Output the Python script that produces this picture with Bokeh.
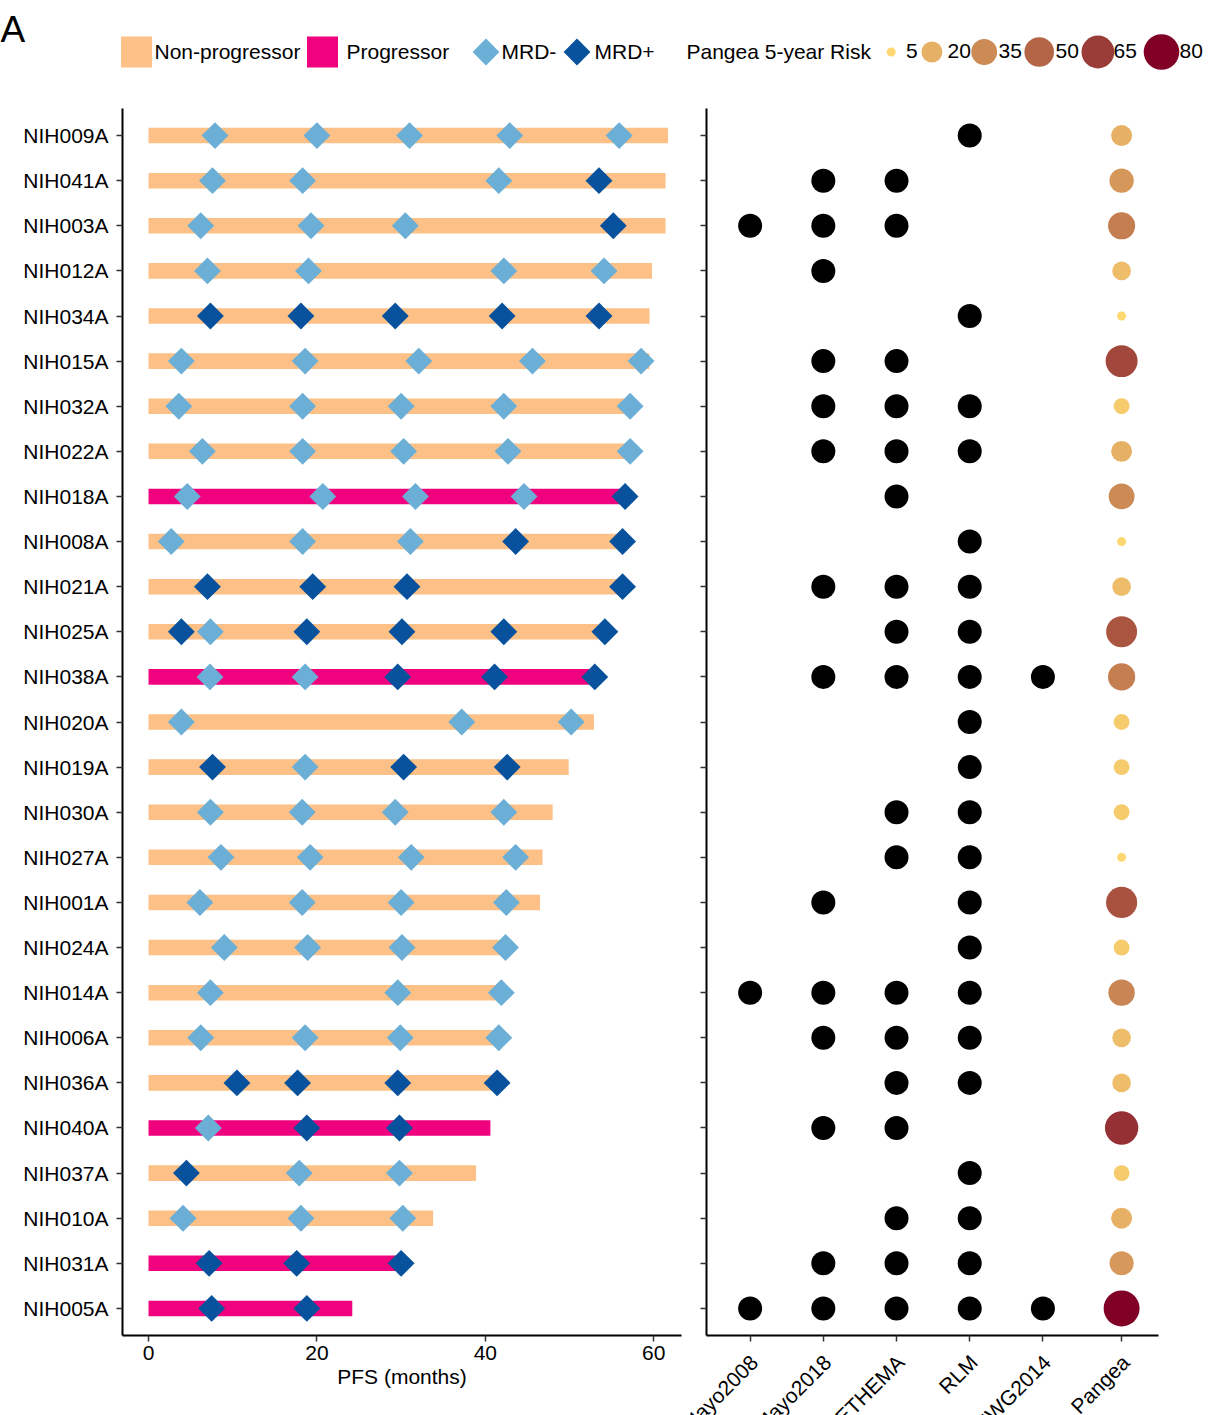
import math
from bokeh.plotting import figure
from bokeh.models import Range1d, FixedTicker, ColumnDataSource
from bokeh.layouts import column, row
from bokeh.embed import file_html
from bokeh.resources import INLINE
from bokeh.core.properties import value

# ---------------- data ----------------
patients = ["NIH009A", "NIH041A", "NIH003A", "NIH012A", "NIH034A", "NIH015A", "NIH032A",
            "NIH022A", "NIH018A", "NIH008A", "NIH021A", "NIH025A", "NIH038A", "NIH020A",
            "NIH019A", "NIH030A", "NIH027A", "NIH001A", "NIH024A", "NIH014A", "NIH006A",
            "NIH036A", "NIH040A", "NIH037A", "NIH010A", "NIH031A", "NIH005A"]

pfs_months = [61.7, 61.4, 61.4, 59.8, 59.5, 59.5, 57.0, 57.0, 56.2, 56.2, 56.0, 53.4, 52.3,
              52.9, 49.9, 48.0, 46.8, 46.5, 42.6, 41.8, 41.5, 41.0, 40.6, 38.9, 33.8, 29.8, 24.2]

outcome = ["Non-progressor", "Non-progressor", "Non-progressor", "Non-progressor",
           "Non-progressor", "Non-progressor", "Non-progressor", "Non-progressor",
           "Progressor", "Non-progressor", "Non-progressor", "Non-progressor", "Progressor",
           "Non-progressor", "Non-progressor", "Non-progressor", "Non-progressor",
           "Non-progressor", "Non-progressor", "Non-progressor", "Non-progressor",
           "Non-progressor", "Progressor", "Non-progressor", "Non-progressor", "Progressor",
           "Progressor"]

mrd_months = [
    [7.9, 20.0, 31.0, 42.9, 55.9],
    [7.6, 18.3, 41.6, 53.5],
    [6.2, 19.3, 30.5, 55.2],
    [7.0, 19.0, 42.2, 54.1],
    [7.35, 18.1, 29.3, 42.0, 53.5],
    [3.9, 18.6, 32.1, 45.6, 58.5],
    [3.6, 18.3, 30.0, 42.2, 57.2],
    [6.4, 18.3, 30.3, 42.7, 57.2],
    [4.6, 20.7, 31.7, 44.6, 56.6],
    [2.7, 18.3, 31.1, 43.6, 56.3],
    [7.0, 19.5, 30.7, 56.3],
    [3.9, 7.35, 18.8, 30.1, 42.2, 54.2],
    [7.3, 18.6, 29.6, 41.1, 53.0],
    [3.9, 37.2, 50.2],
    [7.6, 18.6, 30.3, 42.6],
    [7.35, 18.25, 29.3, 42.2],
    [8.6, 19.2, 31.2, 43.6],
    [6.1, 18.25, 30.0, 42.5],
    [9.0, 18.9, 30.1, 42.4],
    [7.35, 29.6, 41.9],
    [6.2, 18.6, 29.9, 41.6],
    [10.5, 17.7, 29.6, 41.4],
    [7.1, 18.8, 29.8],
    [4.5, 17.9, 29.8],
    [4.1, 18.1, 30.2],
    [7.2, 17.6, 30.0],
    [7.5, 18.8],
]

N, P = "MRD-", "MRD+"
mrd_result = [
    [N, N, N, N, N],
    [N, N, N, P],
    [N, N, N, P],
    [N, N, N, N],
    [P, P, P, P, P],
    [N, N, N, N, N],
    [N, N, N, N, N],
    [N, N, N, N, N],
    [N, N, N, N, P],
    [N, N, N, P, P],
    [P, P, P, P],
    [P, N, P, P, P, P],
    [N, N, P, P, P],
    [N, N, N],
    [P, N, P, P],
    [N, N, N, N],
    [N, N, N, N],
    [N, N, N, N],
    [N, N, N, N],
    [N, N, N],
    [N, N, N, N],
    [P, P, P, P],
    [N, P, P],
    [P, N, N],
    [N, N, N],
    [P, P, P],
    [P, P],
]

models = ["Mayo2008", "Mayo2018", "PETHEMA", "RLM", "IMWG2014", "Pangea"]

model_calls = [
    ["RLM"],
    ["Mayo2018", "PETHEMA"],
    ["Mayo2008", "Mayo2018", "PETHEMA"],
    ["Mayo2018"],
    ["RLM"],
    ["Mayo2018", "PETHEMA"],
    ["Mayo2018", "PETHEMA", "RLM"],
    ["Mayo2018", "PETHEMA", "RLM"],
    ["PETHEMA"],
    ["RLM"],
    ["Mayo2018", "PETHEMA", "RLM"],
    ["PETHEMA", "RLM"],
    ["Mayo2018", "PETHEMA", "RLM", "IMWG2014"],
    ["RLM"],
    ["RLM"],
    ["PETHEMA", "RLM"],
    ["PETHEMA", "RLM"],
    ["Mayo2018", "RLM"],
    ["RLM"],
    ["Mayo2008", "Mayo2018", "PETHEMA", "RLM"],
    ["Mayo2018", "PETHEMA", "RLM"],
    ["PETHEMA", "RLM"],
    ["Mayo2018", "PETHEMA"],
    ["RLM"],
    ["PETHEMA", "RLM"],
    ["Mayo2018", "PETHEMA", "RLM"],
    ["Mayo2008", "Mayo2018", "PETHEMA", "RLM", "IMWG2014"],
]

pangea_risk = [20, 30, 40, 15, 5, 61, 10, 20, 35, 5, 15, 56, 40, 10, 10, 10, 4, 57, 10,
               37, 15, 15, 68, 10, 20, 29, 82]

risk_breaks = [5, 20, 35, 50, 65, 80]
outcome_levels = ["Non-progressor", "Progressor"]
mrd_levels = ["MRD-", "MRD+"]

# ---------------- styles / layout ----------------
FONT = "Liberation Sans"
FS = "21px"
OUTCOME_COLORS = {"Non-progressor": "#FDC086", "Progressor": "#F0027F"}
MRD_COLORS = {"MRD-": "#6BAED6", "MRD+": "#08519C"}
RISK_STOPS = ["#FDD870", "#E6B065", "#CC8A55", "#B46546", "#9A3C37", "#800026"]
MODEL_POS = [1, 2, 3, 4, 5, 6.075]

PAGE_W, PAGE_H = 1212, 1415
TOP_H = 88
FRAME_TOP_PAD = 20
FRAME_H = 1227
LEFT_W = 690
R_W = PAGE_W - LEFT_W
R_BL, R_BR = 16, 54
R_XR = (0.404, 6.579)
R_BOTTOM = 8


def hex2rgb(h):
    h = h.lstrip("#")
    return tuple(int(h[i:i + 2], 16) for i in (0, 2, 4))


def risk_color(v):
    v = min(max(v, risk_breaks[0]), risk_breaks[-1])
    for k in range(len(risk_breaks) - 1):
        a, b = risk_breaks[k], risk_breaks[k + 1]
        if v <= b:
            t = (v - a) / (b - a)
            c0, c1 = hex2rgb(RISK_STOPS[k]), hex2rgb(RISK_STOPS[k + 1])
            c = [round(c0[j] + (c1[j] - c0[j]) * t) for j in range(3)]
            return "#%02x%02x%02x" % tuple(c)
    return RISK_STOPS[-1]


def risk_size(v):
    return 9 + 26.6 * math.sqrt(max(v - 5, 0) / 75.0)


def style_axes(p):
    for ax in list(p.xaxis) + list(p.yaxis):
        ax.axis_line_color = "black"
        ax.axis_line_width = 2
        ax.major_tick_line_color = "#333333"
        ax.major_tick_line_width = 1.5
        ax.major_tick_in = 0
        ax.major_tick_out = 6
        ax.minor_tick_line_color = None
        ax.major_label_text_font = FONT
        ax.major_label_text_font_size = FS
        ax.major_label_text_color = "black"
        ax.axis_label_text_font = FONT
        ax.axis_label_text_font_size = FS
        ax.axis_label_text_font_style = "normal"
        ax.axis_label_text_color = "black"
    p.xgrid.visible = False
    p.ygrid.visible = False
    p.outline_line_color = None
    p.background_fill_color = "white"
    p.border_fill_color = "white"


def blank(p):
    p.outline_line_color = None
    p.background_fill_color = "white"
    p.border_fill_color = "white"


n = len(patients)
rows = list(range(n))
y_range = Range1d(n - 0.4, -0.6)

# ---------------- left panel ----------------
left_h = PAGE_H - TOP_H
left = figure(width=LEFT_W, height=left_h, x_range=Range1d(-3.09, 63.3), y_range=y_range,
              output_backend="svg", toolbar_location=None,
              min_border_left=122, min_border_right=9, min_border_top=FRAME_TOP_PAD,
              min_border_bottom=left_h - FRAME_TOP_PAD - FRAME_H)

bar_src = ColumnDataSource(dict(y=rows, right=pfs_months,
                                color=[OUTCOME_COLORS[o] for o in outcome]))
left.hbar(y="y", left=0, right="right", height=0.345, fill_color="color",
          line_color=None, source=bar_src)

dx, dy, dc = [], [], []
for i in rows:
    for t, r in zip(mrd_months[i], mrd_result[i]):
        dx.append(t)
        dy.append(i)
        dc.append(MRD_COLORS[r])
left.scatter(x=dx, y=dy, marker="square", angle=math.pi / 4, size=19,
             fill_color=dc, line_color=None)

style_axes(left)
left.yaxis.ticker = FixedTicker(ticks=rows)
left.yaxis.major_label_overrides = {i: patients[i] for i in rows}
left.yaxis.major_label_standoff = 8
left.xaxis.ticker = FixedTicker(ticks=[0, 20, 40, 60])
left.xaxis.major_label_standoff = 4
left.xaxis.axis_label = "PFS (months)"
left.xaxis.axis_label_standoff = 2

# ---------------- right panel ----------------
right_h = FRAME_TOP_PAD + FRAME_H + R_BOTTOM
right = figure(width=R_W, height=right_h, x_range=Range1d(*R_XR), y_range=y_range,
               output_backend="svg", toolbar_location=None,
               min_border_left=R_BL, min_border_right=R_BR, min_border_top=FRAME_TOP_PAD,
               min_border_bottom=R_BOTTOM)

cx, cy = [], []
for i in rows:
    for m in model_calls[i]:
        cx.append(MODEL_POS[models.index(m)])
        cy.append(i)
right.scatter(x=cx, y=cy, size=24, fill_color="black", line_color=None)

right.scatter(x=[MODEL_POS[models.index("Pangea")]] * n, y=rows,
              size=[risk_size(v) for v in pangea_risk],
              fill_color=[risk_color(v) for v in pangea_risk], line_color=None)

style_axes(right)
right.yaxis.ticker = FixedTicker(ticks=rows)
right.yaxis.major_label_overrides = {i: "" for i in rows}
right.yaxis.major_label_text_font_size = "1px"
right.yaxis.major_label_standoff = 0
right.xaxis.ticker = FixedTicker(ticks=MODEL_POS)
right.xaxis.major_label_overrides = {t: "" for t in MODEL_POS}
right.xaxis.major_label_text_font_size = "1px"
right.xaxis.major_label_standoff = 0

# rotated category labels under the right panel (same x mapping, extended to borders)
k = (R_W - R_BL - R_BR) / (R_XR[1] - R_XR[0])
lab_h = PAGE_H - TOP_H - right_h
lab = figure(width=R_W, height=lab_h,
             x_range=Range1d(R_XR[0] - R_BL / k, R_XR[1] + R_BR / k),
             y_range=Range1d(lab_h, 0), output_backend="svg", toolbar_location=None,
             x_axis_type=None, y_axis_type=None, min_border=0)
blank(lab)
lab.text(x=MODEL_POS, y=[7] * len(models), text=models, angle=math.pi / 4, x_offset=-4,
         text_align="right", text_baseline="top", text_font=value(FONT),
         text_font_size=value(FS), text_color="black")

# ---------------- legend strip ----------------
top = figure(width=PAGE_W, height=TOP_H, x_range=Range1d(0, PAGE_W), y_range=Range1d(TOP_H, 0),
             output_backend="svg", toolbar_location=None, x_axis_type=None, y_axis_type=None,
             min_border=0)
blank(top)

LEG_Y = 51.5
top.text(x=[0], y=[8], text=["A"], text_font=value(FONT), text_font_size=value("37px"),
         text_baseline="top", text_align="left", text_color="black")

sw_x = [136, 322]
top.rect(x=sw_x, y=[LEG_Y] * 2, width=31, height=31,
         fill_color=[OUTCOME_COLORS[o] for o in outcome_levels], line_color=None)
md_x = [485.5, 576.5]
top.scatter(x=md_x, y=[LEG_Y] * 2, marker="square", angle=math.pi / 4, size=19,
            fill_color=[MRD_COLORS[m] for m in mrd_levels], line_color=None)
rc_x = [890.7, 931.4, 983.7, 1038.7, 1097.4, 1161]
top.scatter(x=rc_x, y=[LEG_Y] * len(risk_breaks), size=[risk_size(v) for v in risk_breaks],
            fill_color=[risk_color(v) for v in risk_breaks], line_color=None)

leg_texts = outcome_levels + mrd_levels + ["Pangea 5-year Risk"] + [str(b) for b in risk_breaks]
leg_tx = [154, 346, 501, 594, 686, 905.6, 947, 998, 1055, 1113, 1179]
top.text(x=leg_tx, y=[LEG_Y - 1] * len(leg_tx), text=leg_texts, text_font=value(FONT),
         text_font_size=value(FS), text_baseline="middle", text_align="left",
         text_color="black")

layout = column(top, row(left, column(right, row(lab))))
open("out.html", "w").write(file_html(layout, INLINE))
